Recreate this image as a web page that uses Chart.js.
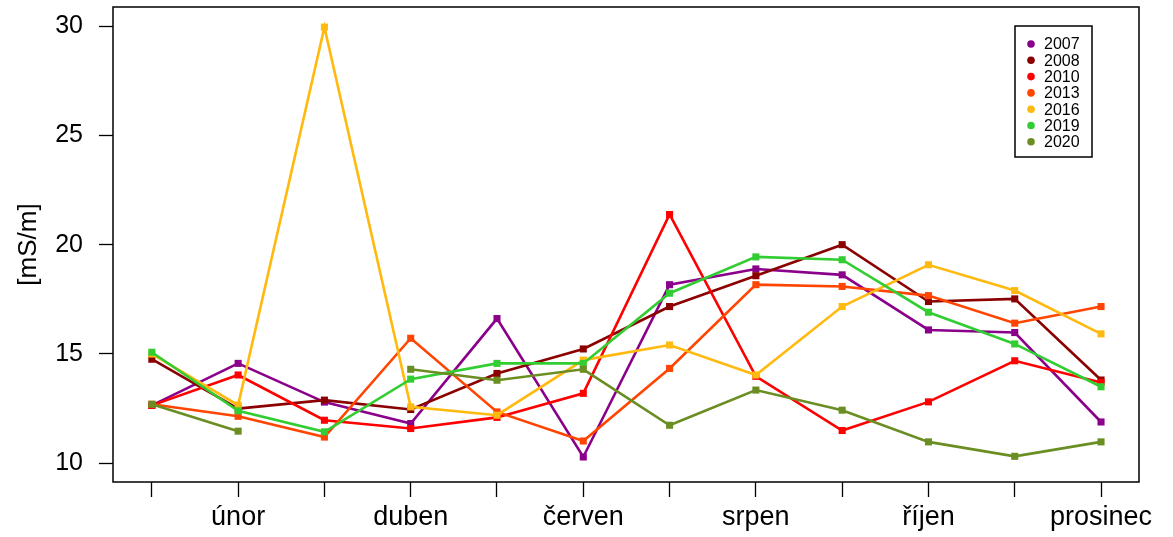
<!DOCTYPE html>
<html>
<head>
<meta charset="utf-8">
<script src="https://cdn.jsdelivr.net/npm/chart.js@4.4.0/dist/chart.umd.min.js"></script>
<style>
  body { margin: 0; background: #fff; }
  canvas { display: block; }
</style>
</head>
<body>
<canvas id="chart" width="1173" height="537"></canvas>
<script>
// months (only even ones get a label on the axis)
const months = ['leden', 'únor', 'březen', 'duben', 'květen', 'červen',
    'červenec', 'srpen', 'září', 'říjen', 'listopad', 'prosinec'];
const yTicks = [10, 15, 20, 25, 30];

const years = ['2007', '2008', '2010', '2013', '2016', '2019', '2020'];
const colors = ['#8B008B', '#8B0000', '#FF0000', '#FF4500', '#FFB90F', '#32CD32', '#6B8E23'];

// conductivity per month, one array per year
const v2007 = [12.65, 14.57, 12.8, 11.82, 16.62, 10.29, 18.17, 18.89, 18.62, 16.1, 15.98, 11.89];
const v2008 = [14.76, 12.5, 12.89, 12.46, 14.11, 15.23, 17.17, 18.58, 20.0, 17.4, 17.52, 13.81];
const v2010 = [12.65, 14.04, 11.97, 11.59, 12.1, 13.2, 21.38, 13.98, 11.5, 12.81, 14.69, 13.7];
const v2013 = [12.7, 12.15, 11.2, 15.72, 12.35, 11.02, 14.34, 18.17, 18.09, 17.67, 16.41, 17.17];
const v2016 = [15.0, 12.66, 29.95, 12.58, 12.2, 14.72, 15.41, 14.04, 17.17, 19.08, 17.9, 15.92];
const v2019 = [15.08, 12.4, 11.44, 13.85, 14.57, 14.57, 17.78, 19.44, 19.31, 16.91, 15.46, 13.5];
const v2020 = [12.7, 11.47, null, 14.3, 13.8, 14.3, 11.74, 13.35, 12.43, 10.98, 10.32, 10.98];

const series = [v2007, v2008, v2010, v2013, v2016, v2019, v2020];

const FONT = '"Liberation Sans", Arial, sans-serif';

let datasets = series.map((vals, i) => ({
    label: years[i],
    data: vals.map((y, m) => ({ x: m + 1, y: y })),
    borderColor: colors[i],
    backgroundColor: colors[i],
    borderWidth: 2.6,
    pointStyle: 'rect',
    pointRadius: 5,
    pointBorderWidth: 0,
    spanGaps: false,
    order: series.length - i   // later years drawn on top, like R
}));

// fixed axis sizes, no extra label padding pushing the plot area around
function fixSize(w, h) {
    return (scale) => {
        if (w) scale.width = w;
        if (h) scale.height = h;
        scale.paddingTop = 0;
        scale.paddingBottom = 0;
        scale.paddingLeft = 0;
        scale.paddingRight = 0;
    };
}

// box around the plot + legend in the top right corner
const boxPlugin = {
    id: 'rbox',
    afterDraw(chart) {
        const { ctx, chartArea: a } = chart;
        ctx.save();
        ctx.strokeStyle = '#000';
        ctx.lineWidth = 1.5;
        ctx.strokeRect(a.left, a.top, a.right - a.left, a.bottom - a.top);

        // legend
        const lx = 1015, ly = 26, lw = 77, lh = 131;
        ctx.fillStyle = '#fff';
        ctx.fillRect(lx, ly, lw, lh);
        ctx.lineWidth = 1.5;
        ctx.strokeRect(lx, ly, lw, lh);
        ctx.font = '16px ' + FONT;
        ctx.textBaseline = 'middle';
        ctx.textAlign = 'left';
        chart.data.datasets.forEach((ds, i) => {
            const y = 44 + i * 16.3;
            ctx.fillStyle = ds.borderColor;
            ctx.beginPath();
            ctx.arc(1031, y, 3.8, 0, Math.PI * 2);
            ctx.fill();
            ctx.fillStyle = '#000';
            ctx.fillText(ds.label, 1044, y + 1);
        });
        ctx.restore();
    }
};

const ctx = document.getElementById('chart').getContext('2d');
const chart = new Chart(ctx, {
    type: 'line',
    data: { datasets: datasets },
    options: {
        responsive: false,
        animation: false,
        devicePixelRatio: 1,
        layout: { padding: { top: 7, right: 34, left: 0, bottom: 0 } },
        plugins: {
            legend: { display: false },
            tooltip: { enabled: false }
        },
        scales: {
            x: {
                type: 'linear',
                min: 0.55,
                max: 12.44,
                afterFit: fixSize(0, 55),
                afterBuildTicks: (scale) => {
                    scale.ticks = months.map((m, i) => ({ value: i + 1 }));
                },
                border: { display: false },
                grid: {
                    drawOnChartArea: false,
                    tickLength: 15,
                    tickColor: '#000',
                    tickWidth: 1.3
                },
                ticks: {
                    autoSkip: false,
                    maxRotation: 0,
                    padding: 4,
                    color: '#000',
                    font: { family: FONT, size: 27 },
                    callback: (value) => (value % 2 === 0 ? months[value - 1] : '')
                }
            },
            y: {
                min: 9.145,
                max: 30.87,
                afterFit: fixSize(113, 0),
                afterBuildTicks: (scale) => {
                    scale.ticks = yTicks.map(v => ({ value: v }));
                },
                border: { display: false },
                grid: {
                    drawOnChartArea: false,
                    tickLength: 14,
                    tickColor: '#000',
                    tickWidth: 1.3
                },
                ticks: {
                    padding: 16,
                    color: '#000',
                    font: { family: FONT, size: 25 }
                },
                title: {
                    display: true,
                    text: '[mS/m]',
                    color: '#000',
                    padding: { top: 13, bottom: 0 },
                    font: { family: FONT, size: 26 }
                }
            }
        }
    },
    plugins: [boxPlugin]
});
</script>
</body>
</html>
